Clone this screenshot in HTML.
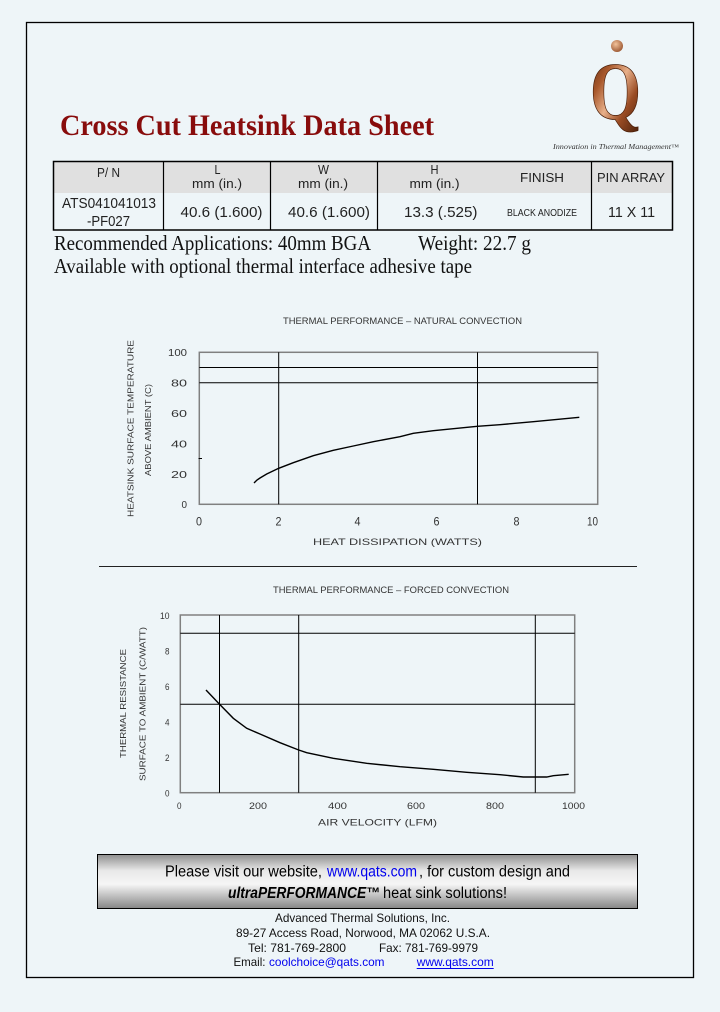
<!DOCTYPE html>
<html>
<head>
<meta charset="utf-8">
<style>
html,body{margin:0;padding:0;background:#EEF5F8;}
svg{display:block;}
.sans{font-family:"Liberation Sans",Arial,sans-serif;}
.serif{font-family:"Liberation Serif","Times New Roman",serif;}
</style>
</head>
<body>
<svg width="720" height="1012" viewBox="0 0 720 1012" xmlns="http://www.w3.org/2000/svg">
<defs>
  <linearGradient id="cop" x1="0" y1="0" x2="1" y2="1">
    <stop offset="0" stop-color="#4a1e08"/>
    <stop offset="0.3" stop-color="#a8582c"/>
    <stop offset="0.5" stop-color="#e8b08a"/>
    <stop offset="0.7" stop-color="#9a4c24"/>
    <stop offset="1" stop-color="#3e1806"/>
  </linearGradient>
  <radialGradient id="dot" cx="0.4" cy="0.35" r="0.7">
    <stop offset="0" stop-color="#f2c29a"/>
    <stop offset="1" stop-color="#9a5530"/>
  </radialGradient>
  <linearGradient id="ban" x1="0" y1="0" x2="0" y2="1">
    <stop offset="0" stop-color="#8e8e8e"/>
    <stop offset="0.3" stop-color="#e8e8e8"/>
    <stop offset="0.55" stop-color="#f6f6f6"/>
    <stop offset="1" stop-color="#868686"/>
  </linearGradient>
</defs>

<rect x="0" y="0" width="720" height="1012" fill="#EEF5F8"/>
<!-- page border -->
<rect x="26.5" y="22.5" width="667" height="955" fill="none" stroke="#000" stroke-width="1.3"/>

<!-- Logo -->
<circle cx="617" cy="46" r="6" fill="url(#dot)"/>
<text x="590" y="119" class="serif" font-size="82" font-weight="bold" fill="url(#cop)" stroke="#4a1e08" stroke-width="0.8" textLength="51" lengthAdjust="spacingAndGlyphs">Q</text>
<text x="553" y="149" class="serif" font-size="7" font-style="italic" fill="#333" textLength="126" lengthAdjust="spacingAndGlyphs">Innovation in Thermal Management™</text>

<!-- Title -->
<text x="60" y="135" class="serif" font-size="30" font-weight="bold" fill="#880c0c" textLength="374" lengthAdjust="spacingAndGlyphs">Cross Cut Heatsink Data Sheet</text>

<!-- Table -->
<rect x="53.5" y="161.5" width="619" height="31.5" fill="#E0E0E0"/>
<rect x="53.5" y="161.5" width="619" height="68.5" fill="none" stroke="#000" stroke-width="1.5"/>
<line x1="163.5" y1="161.5" x2="163.5" y2="230" stroke="#000" stroke-width="1.2"/>
<line x1="270.5" y1="161.5" x2="270.5" y2="230" stroke="#000" stroke-width="1.2"/>
<line x1="377.5" y1="161.5" x2="377.5" y2="230" stroke="#000" stroke-width="1.2"/>
<line x1="591.5" y1="161.5" x2="591.5" y2="230" stroke="#000" stroke-width="1.2"/>

<g class="sans" fill="#222">
  <text x="97" y="177" font-size="12.5" textLength="23" lengthAdjust="spacingAndGlyphs">P/ N</text>
  <text x="214.5" y="174" font-size="12.5" textLength="6" lengthAdjust="spacingAndGlyphs">L</text>
  <text x="192" y="188" font-size="12.5" textLength="50" lengthAdjust="spacingAndGlyphs">mm (in.)</text>
  <text x="318" y="174" font-size="12.5" textLength="11" lengthAdjust="spacingAndGlyphs">W</text>
  <text x="298" y="188" font-size="12.5" textLength="50" lengthAdjust="spacingAndGlyphs">mm (in.)</text>
  <text x="430.5" y="174" font-size="12.5" textLength="8" lengthAdjust="spacingAndGlyphs">H</text>
  <text x="409.5" y="188" font-size="12.5" textLength="50" lengthAdjust="spacingAndGlyphs">mm (in.)</text>
  <text x="520" y="182" font-size="12.5" textLength="44" lengthAdjust="spacingAndGlyphs">FINISH</text>
  <text x="597" y="182" font-size="12.5" textLength="68" lengthAdjust="spacingAndGlyphs">PIN ARRAY</text>

  <text x="62" y="208" font-size="14.5" textLength="94" lengthAdjust="spacingAndGlyphs">ATS041041013</text>
  <text x="87" y="226" font-size="14.5" textLength="43" lengthAdjust="spacingAndGlyphs">-PF027</text>
  <text x="180.5" y="217" font-size="14.5" textLength="82" lengthAdjust="spacingAndGlyphs">40.6  (1.600)</text>
  <text x="288" y="217" font-size="14.5" textLength="82" lengthAdjust="spacingAndGlyphs">40.6  (1.600)</text>
  <text x="404" y="217" font-size="14.5" textLength="73.5" lengthAdjust="spacingAndGlyphs">13.3  (.525)</text>
  <text x="507" y="216" font-size="10.5" textLength="70" lengthAdjust="spacingAndGlyphs">BLACK ANODIZE</text>
  <text x="608" y="217" font-size="14.5" textLength="47" lengthAdjust="spacingAndGlyphs">11 X 11</text>
</g>

<!-- Recommended -->
<g class="serif" fill="#111">
  <text x="54" y="250" font-size="21" textLength="317" lengthAdjust="spacingAndGlyphs">Recommended Applications: 40mm BGA</text>
  <text x="418" y="250" font-size="21" textLength="113" lengthAdjust="spacingAndGlyphs">Weight: 22.7 g</text>
  <text x="54" y="273" font-size="21" textLength="418" lengthAdjust="spacingAndGlyphs">Available with optional thermal interface adhesive tape</text>
</g>

<!-- Chart 1 -->
<g class="sans" fill="#333">
  <text x="283" y="324" font-size="9" textLength="239" lengthAdjust="spacingAndGlyphs">THERMAL PERFORMANCE – NATURAL CONVECTION</text>
  <text transform="translate(133.5,517) rotate(-90)" font-size="8.5" textLength="177" lengthAdjust="spacingAndGlyphs">HEATSINK SURFACE TEMPERATURE</text>
  <text transform="translate(151,476) rotate(-90)" font-size="8.5" textLength="92" lengthAdjust="spacingAndGlyphs">ABOVE AMBIENT (C)</text>
  <text x="168" y="356" font-size="10" textLength="19" lengthAdjust="spacingAndGlyphs">100</text>
  <text x="171" y="386.5" font-size="10" textLength="16" lengthAdjust="spacingAndGlyphs">80</text>
  <text x="171" y="417" font-size="10" textLength="16" lengthAdjust="spacingAndGlyphs">60</text>
  <text x="171" y="447.5" font-size="10" textLength="16" lengthAdjust="spacingAndGlyphs">40</text>
  <text x="171" y="478" font-size="10" textLength="16" lengthAdjust="spacingAndGlyphs">20</text>
  <text x="181.5" y="508" font-size="10" textLength="5.5" lengthAdjust="spacingAndGlyphs">0</text>
  <text x="196" y="525.5" font-size="11.5" textLength="6" lengthAdjust="spacingAndGlyphs">0</text>
  <text x="275.5" y="525.5" font-size="11.5" textLength="6" lengthAdjust="spacingAndGlyphs">2</text>
  <text x="354.5" y="525.5" font-size="11.5" textLength="6" lengthAdjust="spacingAndGlyphs">4</text>
  <text x="433.5" y="525.5" font-size="11.5" textLength="6" lengthAdjust="spacingAndGlyphs">6</text>
  <text x="513.5" y="525.5" font-size="11.5" textLength="6" lengthAdjust="spacingAndGlyphs">8</text>
  <text x="587" y="525.5" font-size="11.5" textLength="11" lengthAdjust="spacingAndGlyphs">10</text>
  <text x="313" y="545" font-size="9" textLength="169" lengthAdjust="spacingAndGlyphs">HEAT DISSIPATION (WATTS)</text>
</g>
<rect x="199.3" y="352.3" width="398.4" height="152" fill="none" stroke="#808080" stroke-width="1.5"/>
<g stroke="#000" stroke-width="1">
  <line x1="199.3" y1="367.5" x2="597.7" y2="367.5"/>
  <line x1="199.3" y1="382.7" x2="597.7" y2="382.7"/>
  <line x1="278.7" y1="352.3" x2="278.7" y2="504.3"/>
  <line x1="477.5" y1="352.3" x2="477.5" y2="504.3"/>
  <line x1="198.5" y1="458.5" x2="202" y2="458.5"/>
</g>
<polyline fill="none" stroke="#000" stroke-width="1.4" points="254,483 257,480 260,478 266.7,474 278.7,468.3 293.3,462.7 313.3,455.7 333.3,450.3 353.3,446 373.3,441.7 400,436.7 413.3,433.3 433.3,430.7 477.3,426.3 500,424.7 533.3,421.7 579.3,417.3"/>

<!-- divider -->
<line x1="99" y1="566.5" x2="637" y2="566.5" stroke="#222" stroke-width="1"/>

<!-- Chart 2 -->
<g class="sans" fill="#333">
  <text x="273" y="593" font-size="9" textLength="236" lengthAdjust="spacingAndGlyphs">THERMAL PERFORMANCE – FORCED CONVECTION</text>
  <text transform="translate(126,758) rotate(-90)" font-size="8.5" textLength="109" lengthAdjust="spacingAndGlyphs">THERMAL RESISTANCE</text>
  <text transform="translate(145.5,781) rotate(-90)" font-size="8.5" textLength="154" lengthAdjust="spacingAndGlyphs">SURFACE TO AMBIENT (C/WATT)</text>
  <text x="160" y="619" font-size="9.5" textLength="9.5" lengthAdjust="spacingAndGlyphs">10</text>
  <text x="165" y="654.5" font-size="9.5" textLength="4.5" lengthAdjust="spacingAndGlyphs">8</text>
  <text x="165" y="690" font-size="9.5" textLength="4.5" lengthAdjust="spacingAndGlyphs">6</text>
  <text x="165" y="725.5" font-size="9.5" textLength="4.5" lengthAdjust="spacingAndGlyphs">4</text>
  <text x="165" y="761" font-size="9.5" textLength="4.5" lengthAdjust="spacingAndGlyphs">2</text>
  <text x="165" y="796.5" font-size="9.5" textLength="4.5" lengthAdjust="spacingAndGlyphs">0</text>
  <text x="177" y="809" font-size="9" textLength="4.5" lengthAdjust="spacingAndGlyphs">0</text>
  <text x="249" y="809" font-size="9" textLength="18" lengthAdjust="spacingAndGlyphs">200</text>
  <text x="328" y="809" font-size="9" textLength="19" lengthAdjust="spacingAndGlyphs">400</text>
  <text x="407" y="809" font-size="9" textLength="18" lengthAdjust="spacingAndGlyphs">600</text>
  <text x="486" y="809" font-size="9" textLength="18" lengthAdjust="spacingAndGlyphs">800</text>
  <text x="562" y="809" font-size="9" textLength="23" lengthAdjust="spacingAndGlyphs">1000</text>
  <text x="318" y="825.5" font-size="9" textLength="119" lengthAdjust="spacingAndGlyphs">AIR VELOCITY (LFM)</text>
</g>
<rect x="180.3" y="615" width="394.4" height="177.7" fill="none" stroke="#808080" stroke-width="1.5"/>
<g stroke="#000" stroke-width="1">
  <line x1="180.3" y1="633.3" x2="574.7" y2="633.3"/>
  <line x1="180.3" y1="704.3" x2="574.7" y2="704.3"/>
  <line x1="219.5" y1="615" x2="219.5" y2="792.7"/>
  <line x1="298.7" y1="615" x2="298.7" y2="792.7"/>
  <line x1="535.3" y1="615" x2="535.3" y2="792.7"/>
</g>
<polyline fill="none" stroke="#000" stroke-width="1.4" points="206,690 219.3,704 233.3,718.3 246.7,728.3 260,734 280,742.7 298.7,750 306.7,752.7 333.3,758.3 366.7,763.3 400,766.7 433.3,769.3 466.7,772.3 500,774.7 523.3,777 546.7,777 553.3,775.7 568.7,774.3"/>

<!-- Banner -->
<rect x="97.5" y="854.5" width="540" height="54" fill="url(#ban)" stroke="#000" stroke-width="1"/>
<g class="sans" font-size="15.5">
  <text x="165" y="876.5" fill="#000" textLength="157" lengthAdjust="spacingAndGlyphs">Please visit our website,</text>
  <text x="327" y="876.5" fill="#0000ee" textLength="90" lengthAdjust="spacingAndGlyphs">www.qats.com</text>
  <text x="419" y="876.5" fill="#000" textLength="151" lengthAdjust="spacingAndGlyphs">, for custom design and</text>
  <text x="228" y="898" fill="#000" font-weight="bold" font-style="italic" textLength="152" lengthAdjust="spacingAndGlyphs">ultraPERFORMANCE™</text>
  <text x="383" y="898" fill="#000" textLength="124" lengthAdjust="spacingAndGlyphs">heat sink solutions!</text>
</g>

<!-- Footer -->
<g class="sans" font-size="12" fill="#111">
  <text x="275" y="922" textLength="175" lengthAdjust="spacingAndGlyphs">Advanced Thermal Solutions, Inc.</text>
  <text x="236" y="937" textLength="254" lengthAdjust="spacingAndGlyphs">89-27 Access Road, Norwood, MA 02062 U.S.A.</text>
  <text x="248" y="952" textLength="98" lengthAdjust="spacingAndGlyphs">Tel:  781-769-2800</text>
  <text x="379" y="952" textLength="99" lengthAdjust="spacingAndGlyphs">Fax: 781-769-9979</text>
  <text x="233.5" y="966" textLength="32" lengthAdjust="spacingAndGlyphs">Email:</text>
  <text x="269" y="966" fill="#0000ee" textLength="115.5" lengthAdjust="spacingAndGlyphs">coolchoice@qats.com</text>
  <text x="416.7" y="966" fill="#0000ee" textLength="77" lengthAdjust="spacingAndGlyphs">www.qats.com</text>
</g>
<line x1="416.7" y1="968.5" x2="493.7" y2="968.5" stroke="#0000ee" stroke-width="1"/>
</svg>
</body>
</html>
